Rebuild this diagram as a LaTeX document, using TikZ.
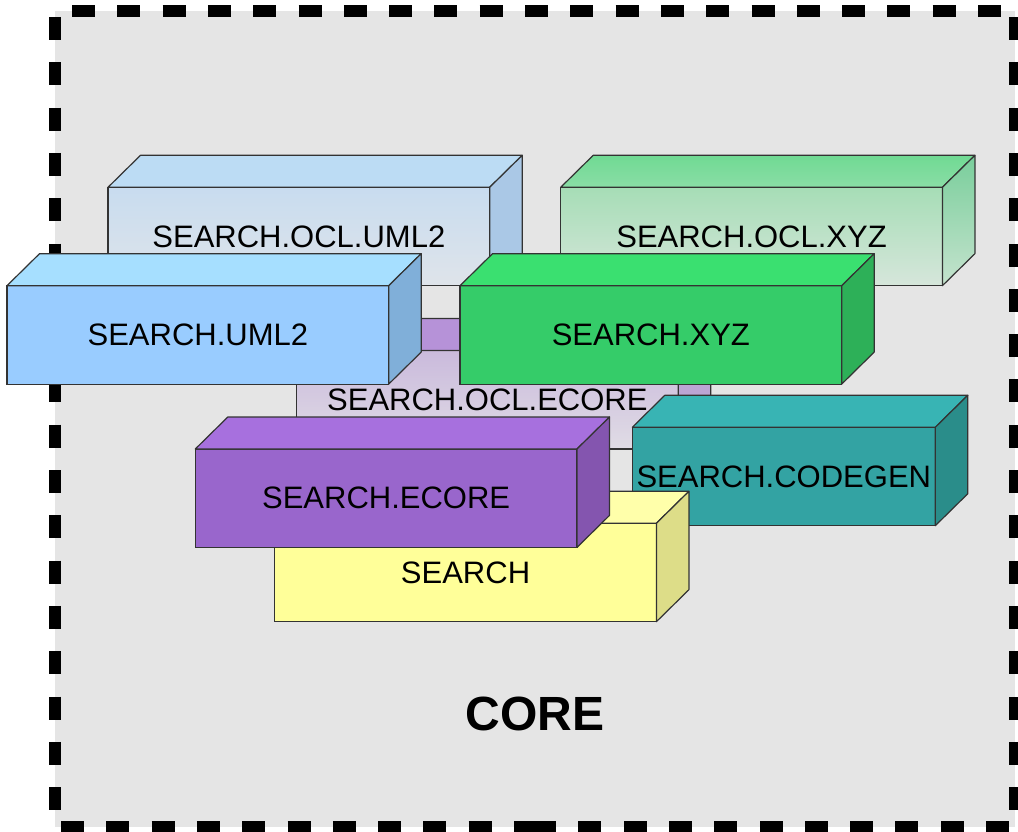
\documentclass[tikz,border=0pt]{standalone}
\usepackage{fontspec}
\setmainfont{Liberation Sans}
\definecolor{bggray}{HTML}{E5E5E5}
\definecolor{edgec}{HTML}{333333}
\definecolor{ouFt}{HTML}{C8DCEF}\definecolor{ouFb}{HTML}{DFE4EA}\definecolor{ouT}{HTML}{BCDCF4}\definecolor{ouS}{HTML}{AAC8E6}
\definecolor{oxFt}{HTML}{A6DDB6}\definecolor{oxFb}{HTML}{D6E6DB}\definecolor{oxTt}{HTML}{70DA93}\definecolor{oxTb}{HTML}{8ADDA6}\definecolor{oxSt}{HTML}{79CE9B}\definecolor{oxSb}{HTML}{C5E3CE}
\definecolor{oeFt}{HTML}{CABADC}\definecolor{oeFb}{HTML}{E0DCE5}\definecolor{oeT}{HTML}{B692D8}\definecolor{oeS}{HTML}{BBA5D4}
\definecolor{uF}{HTML}{99CCFF}\definecolor{uT}{HTML}{A6DFFF}\definecolor{uS}{HTML}{80AFD9}
\definecolor{xF}{HTML}{35CC69}\definecolor{xT}{HTML}{3AE070}\definecolor{xS}{HTML}{2DB058}
\definecolor{cF}{HTML}{33A3A3}\definecolor{cT}{HTML}{38B4B4}\definecolor{cS}{HTML}{2A8D8A}
\definecolor{sF}{HTML}{FFFF99}\definecolor{sT}{HTML}{FFFFAA}\definecolor{sS}{HTML}{DDDD88}
\definecolor{eF}{HTML}{9966CC}\definecolor{eT}{HTML}{A770DE}\definecolor{eS}{HTML}{8455AF}
\tikzset{
  frontface/.style={draw=edgec, line width=1.2pt, anchor=north west, inner sep=0pt, outer sep=0pt,
    minimum height=98.4pt, text=black, font=\fontsize{31}{36}\selectfont},
  face/.style={draw=edgec, line width=1.2pt, line join=round},
  borderdash/.style={line width=12pt, draw=black, dash pattern=on 23pt off 22.3pt},
}
\newcommand\mybox[8]{%
  \node[frontface, minimum width=#4pt, #5] (#1) at (#2,#3) {#8};
  \path[face, #6] (#1.north west) -- ++(32.5,-32) -- ([shift={(32.5,-32)}]#1.north east) -- (#1.north east) -- cycle;
  \path[face, #7] (#1.north east) -- ([shift={(32.5,-32)}]#1.north east) -- ([shift={(32.5,-32)}]#1.south east) -- (#1.south east) -- cycle;
}
\begin{document}
\begin{tikzpicture}[x=1pt,y=-1pt]
\useasboundingbox (0,0) rectangle (1018,832);
% background panel
\fill[bggray] (55,11) rectangle (1015,827);
\coordinate (tl) at (55,11);
\coordinate (tr) at (1015,11);
\coordinate (bl) at (55,827);
\coordinate (br) at (1015,827);
\coordinate (bm) at (535,827);
\draw[borderdash, dash phase=28.3pt] (tl) -- (tr);
\draw[borderdash, dash phase=39.3pt] (tl) -- (bl);
\draw[borderdash, dash phase=39.3pt] (tr) -- (br);
\draw[borderdash, dash phase=39.3pt] (br) -- (bm);
\draw[borderdash, dash phase=39.3pt] (bl) -- (bm);

\mybox{oclumltwo}{108}{187.3}{381.7}
  {top color=ouFt, bottom color=ouFb}
  {fill=ouT}
  {fill=ouS}
  {SEARCH.OCL.UML2}
\mybox{oclxyz}{560.7}{187.3}{381.7}
  {top color=oxFt, bottom color=oxFb}
  {top color=oxTt, bottom color=oxTb}
  {top color=oxSt, bottom color=oxSb}
  {SEARCH.OCL.XYZ}
\mybox{oclecore}{296.5}{350.5}{381.7}
  {top color=oeFt, bottom color=oeFb}
  {fill=oeT}
  {fill=oeS}
  {SEARCH.OCL.ECORE}
\mybox{umltwo}{7}{285.7}{381.7}
  {fill=uF}
  {fill=uT}
  {fill=uS}
  {SEARCH.UML2}
\mybox{xyz}{460}{285.7}{381.7}
  {fill=xF}
  {fill=xT}
  {fill=xS}
  {SEARCH.XYZ}
\mybox{codegen}{632.3}{427.3}{303}
  {fill=cF}
  {fill=cT}
  {fill=cS}
  {SEARCH.CODEGEN}
\mybox{search}{274.7}{523.3}{381.7}
  {fill=sF}
  {fill=sT}
  {fill=sS}
  {SEARCH}
\mybox{ecore}{195.3}{449}{381.7}
  {fill=eF}
  {fill=eT}
  {fill=eS}
  {SEARCH.ECORE}

\node[font=\bfseries\fontsize{48}{58}\selectfont, inner sep=0pt] (core) at (535,713.7) {CORE};
\end{tikzpicture}
\end{document}
